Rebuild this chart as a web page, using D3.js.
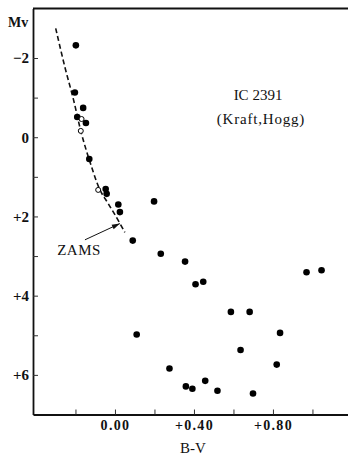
<!DOCTYPE html>
<html><head><meta charset="utf-8">
<script src="https://cdn.jsdelivr.net/npm/d3@7"></script>
<style>
html,body{margin:0;padding:0;background:#fff;}
svg{display:block;}
</style></head>
<body>
<svg id="chart" width="348" height="457"></svg>
<script>
// Filled points: B-V colour index and absolute magnitude Mv
const filledBV = [-0.198,-0.203,-0.161,-0.191,-0.147,-0.130,-0.047,-0.042,0.017,0.025,0.198,
  0.090,0.232,0.110,0.276,0.355,0.408,0.447,0.587,0.682,0.836,0.636,0.819,0.970,1.046,
  0.359,0.392,0.457,0.519,0.699];
const filledMv = [-2.32,-1.13,-0.74,-0.51,-0.36,0.55,1.31,1.43,1.70,1.89,1.62,
  2.61,2.94,4.98,5.84,3.14,3.71,3.65,4.41,4.41,4.94,5.37,5.74,3.41,3.36,
  6.29,6.35,6.15,6.40,6.47];
// Open points
const openBV = [-0.169,-0.173,-0.085];
const openMv = [-0.46,-0.16,1.33];
// Zero-age main sequence (dashed curve)
const zamsBV = [-0.300,-0.255,-0.210,-0.170,-0.128,-0.076,-0.036,0.005,0.050];
const zamsMv = [-2.75,-1.80,-0.95,-0.10,0.60,1.33,1.66,2.00,2.40];
// Axis ticks and labels
const xTicks = [-0.2,0,0.2,0.4,0.6,0.8,1.0];
const xLabels = {"0":"0.00","0.4":"+0.40","0.8":"+0.80"};
const yTicks = [-2,-1,0,1,2,3,4,5,6];
const yLabels = {"-2":"\u22122","0":"0","2":"+2","4":"+4","6":"+6"};
// Annotations
const titleLines = ["IC 2391","(Kraft,Hogg)"];
const zamsLabel = "ZAMS";
const arrowFrom = [-0.152, 2.59];
const arrowTo = [0.025, 2.18];

const FONT = "'Liberation Serif', 'DejaVu Serif', 'Times New Roman', serif";
const svg = d3.select("#chart");
const x = d3.scaleLinear().domain([-0.415, 1.18]).range([33, 348]);
const y = d3.scaleLinear().domain([-3.25, 7.0]).range([8.5, 414.5]);

// axes
const gx = svg.append("g").attr("transform", `translate(0,${y(7.0)})`)
  .call(d3.axisBottom(x).tickValues(xTicks).tickSize(-5).tickSizeOuter(0).tickPadding(6)
    .tickFormat(d => xLabels[String(+d.toFixed(2))] || ""));
gx.attr("font-family", FONT);
gx.select(".domain").attr("stroke","#111").attr("stroke-width",1.8);
gx.selectAll(".tick line").attr("stroke","#333").attr("stroke-width",1);
gx.selectAll("text").attr("font-family", FONT).attr("font-size","14px")
  .attr("letter-spacing","1.3px").attr("font-weight","bold").attr("fill","#111");

const gy = svg.append("g").attr("transform", `translate(${x(-0.415)},0)`)
  .call(d3.axisLeft(y).tickValues(yTicks).tickSize(-5).tickSizeOuter(0).tickPadding(4)
    .tickFormat(d => yLabels[String(d)] || ""));
gy.attr("font-family", FONT);
gy.select(".domain").attr("stroke","#111").attr("stroke-width",1.8);
gy.selectAll(".tick line").attr("stroke","#333").attr("stroke-width",1);
gy.selectAll("text").attr("font-family", FONT).attr("font-size","15px").attr("fill","#111").attr("font-weight","bold");

// top border
svg.append("line").attr("x1", x(-0.415)).attr("x2", x(1.18)).attr("y1", y(-3.25)).attr("y2", y(-3.25))
  .attr("stroke","#111").attr("stroke-width",1.8);

function label(xp, yp, txt, size, opts = {}) {
  return svg.append("text").attr("x", xp).attr("y", yp)
    .attr("font-family", FONT).attr("font-size", size + "px")
    .attr("text-anchor", opts.anchor || "start")
    .attr("font-weight", opts.weight || "normal")
    .attr("letter-spacing", opts.ls || "0px")
    .attr("fill", "#111").text(txt);
}

// axis titles
label(8, 27, "Mv", 14, {weight: "bold"});
label(193, 453, "B-V", 15, {anchor: "middle"});

// ZAMS curve
const zams = zamsBV.map((b,i)=>[b, zamsMv[i]]);
svg.append("path").datum(zams)
  .attr("d", d3.line().x(d=>x(d[0])).y(d=>y(d[1])).curve(d3.curveCatmullRom))
  .attr("fill","none").attr("stroke","#111").attr("stroke-width",1.6).attr("stroke-dasharray","5,3");

// filled points
svg.append("g").selectAll("circle").data(filledBV.map((b,i)=>[b, filledMv[i]])).join("circle")
  .attr("cx", d=>x(d[0])).attr("cy", d=>y(d[1])).attr("r", 3.3).attr("fill","#000");
// open points
svg.append("g").selectAll("circle").data(openBV.map((b,i)=>[b, openMv[i]])).join("circle")
  .attr("cx", d=>x(d[0])).attr("cy", d=>y(d[1])).attr("r", 2.5).attr("fill","#fff")
  .attr("stroke","#000").attr("stroke-width",1);

// arrow
const ax1 = x(arrowFrom[0]), ay1 = y(arrowFrom[1]), ax2 = x(arrowTo[0]), ay2 = y(arrowTo[1]);
svg.append("line").attr("x1",ax1).attr("y1",ay1).attr("x2",ax2).attr("y2",ay2)
  .attr("stroke","#111").attr("stroke-width",1);
const ang = Math.atan2(ay2-ay1, ax2-ax1), hl = 8, hw = 2.5;
const bx = ax2 - hl*Math.cos(ang), by = ay2 - hl*Math.sin(ang);
svg.append("path").attr("d", `M${ax2},${ay2}L${bx - hw*Math.sin(ang)},${by + hw*Math.cos(ang)}L${bx + hw*Math.sin(ang)},${by - hw*Math.cos(ang)}Z`)
  .attr("fill","#111");
label(79, 255, zamsLabel, 15, {anchor: "middle", ls: "0.5px"});

// title
label(258, 100, titleLines[0], 15, {anchor: "middle"});
label(261, 124, titleLines[1], 15, {anchor: "middle", ls: "0.8px"});
</script>
</body></html>
